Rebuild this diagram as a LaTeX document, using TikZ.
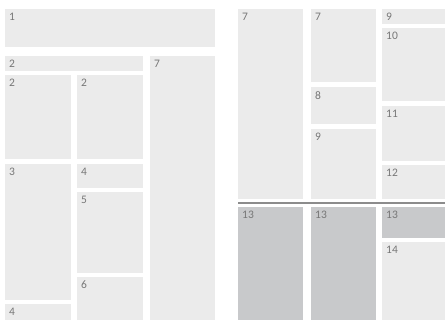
\documentclass[tikz,border=0pt]{standalone}
\usepackage{fontspec}
\setmainfont{Carlito}
\definecolor{boxlight}{HTML}{EBEBEB}
\definecolor{boxdark}{HTML}{C8C9CB}
\definecolor{labgray}{HTML}{777777}
\definecolor{divline}{HTML}{8C8C8C}
\newcommand{\bx}[7]{%
  \fill[#7] (#2,#3) rectangle (#4,#5);
  \node[lab] (#1) at (#2+4,#3+4) {#6};}
\begin{document}
\begin{tikzpicture}[x=1pt,y=-1pt,
  lab/.style={anchor=north west,inner sep=0pt,text=labgray,font=\fontsize{11.5}{13}\selectfont}]
\useasboundingbox[fill=white] (0,0) rectangle (445,320);
% left part
\bx{a1}{5}{9}{215}{47}{1}{boxlight}
\bx{a2}{5}{56}{143}{71}{2}{boxlight}
\bx{a7}{150}{56}{215}{320}{7}{boxlight}
\bx{a2l}{5}{75}{71}{159}{2}{boxlight}
\bx{a2m}{77}{75}{143}{159}{2}{boxlight}
\bx{a3}{5}{164}{71}{300}{3}{boxlight}
\bx{a4l}{5}{304}{71}{320}{4}{boxlight}
\bx{a4m}{77}{164}{143}{188}{4}{boxlight}
\bx{a5}{77}{192}{143}{273}{5}{boxlight}
\bx{a6}{77}{277}{143}{320}{6}{boxlight}
% right part
\bx{b7a}{238}{9}{303}{199}{7}{boxlight}
\bx{b7b}{311}{9}{376}{82}{7}{boxlight}
\bx{b8}{311}{87}{376}{124}{8}{boxlight}
\bx{b9}{311}{129}{376}{199}{9}{boxlight}
\bx{b9r}{382}{9}{445}{24}{9}{boxlight}
\bx{b10}{382}{28}{445}{101}{10}{boxlight}
\bx{b11}{382}{106}{445}{161}{11}{boxlight}
\bx{b12}{382}{165}{445}{199}{12}{boxlight}
\coordinate (dl) at (238,203);
\coordinate (dr) at (445,203);
\draw[divline,line width=1.3pt] (dl) -- (dr);
\bx{c13a}{238}{207}{303}{320}{13}{boxdark}
\bx{c13b}{311}{207}{376}{320}{13}{boxdark}
\bx{c13c}{382}{207}{445}{238}{13}{boxdark}
\bx{c14}{382}{242}{445}{320}{14}{boxlight}
\end{tikzpicture}
\end{document}
